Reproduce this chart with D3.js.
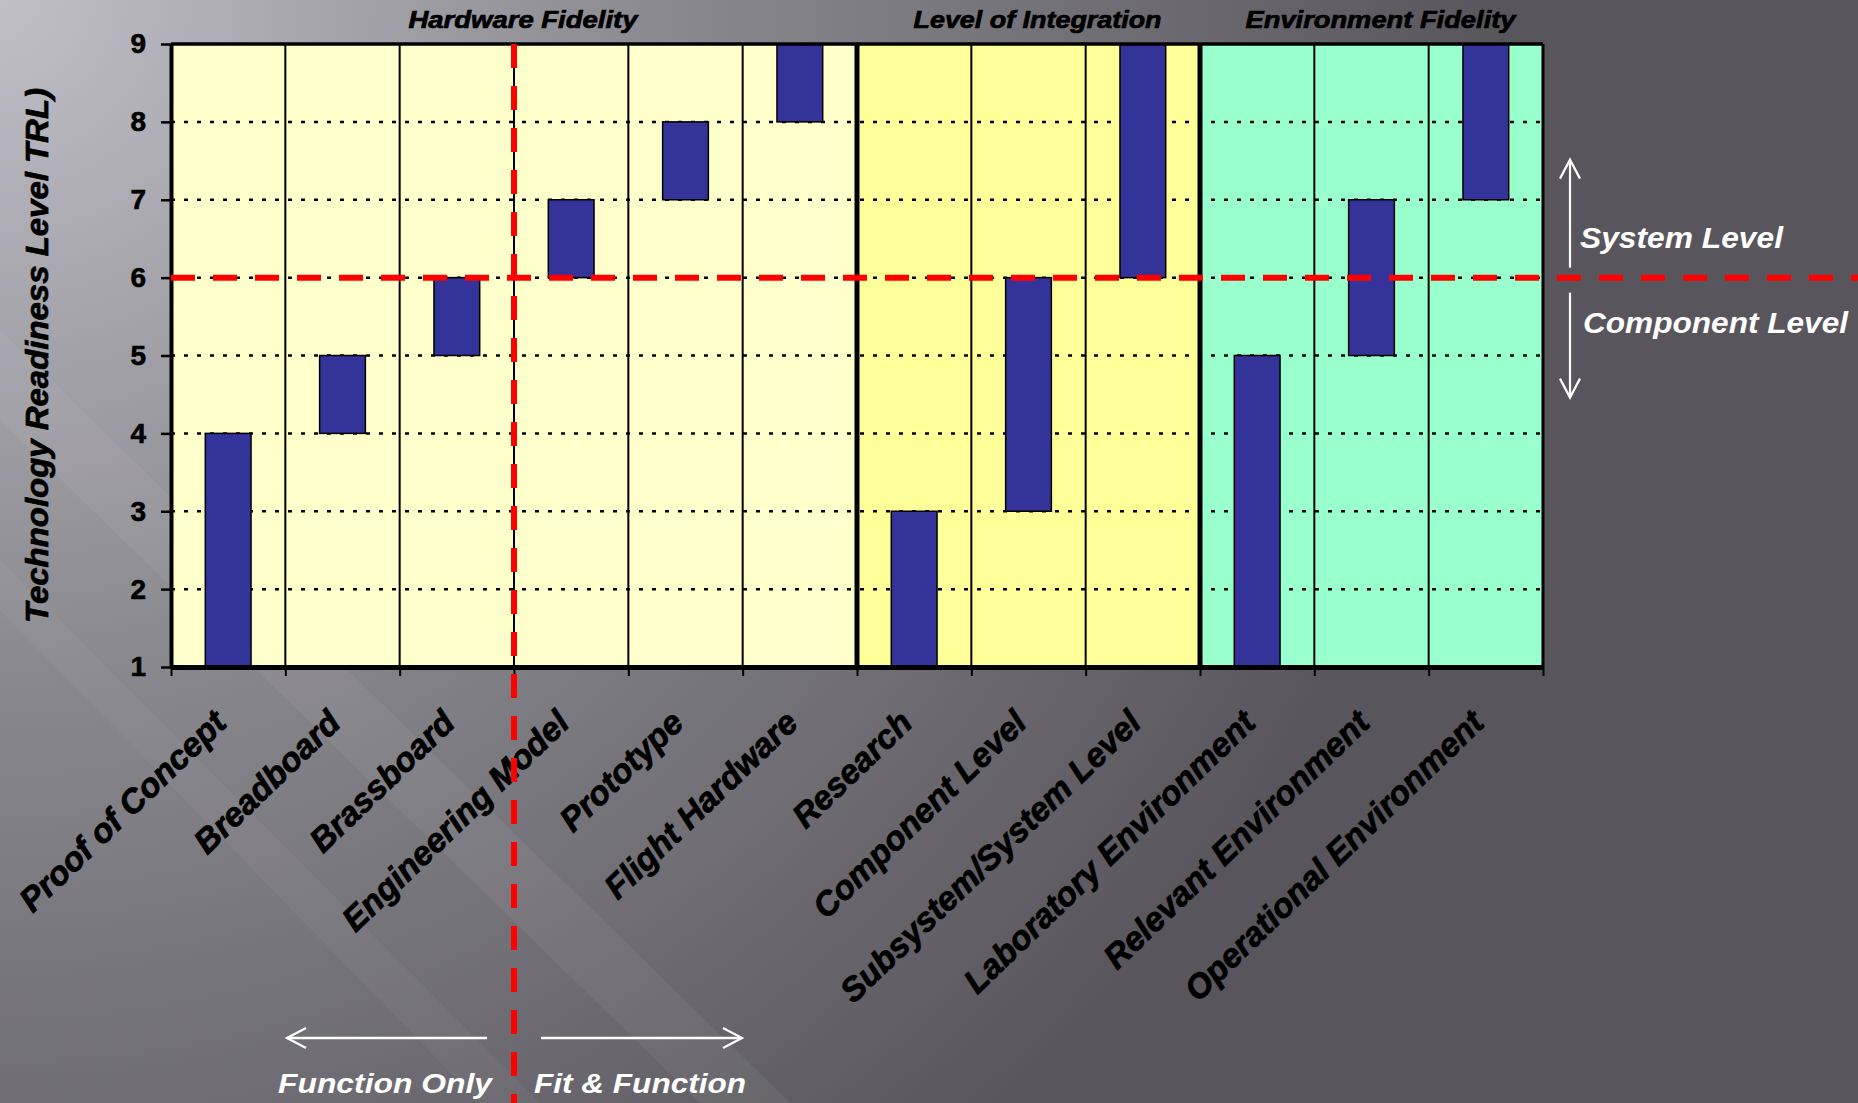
<!DOCTYPE html>
<html>
<head>
<meta charset="utf-8">
<script src="https://cdn.jsdelivr.net/npm/d3@7"></script>
<style>
  body { margin: 0; overflow: hidden; background: #6e6c72; }
  #graph { width: 1858px; height: 1103px; }
  text { font-family: "Liberation Sans", Arial, sans-serif; }
</style>
</head>
<body>
<div id="graph"></div>
<script>
// categories on the x axis
var categories = ["Proof of Concept", "Breadboard", "Brassboard", "Engineering Model", "Prototype", "Flight Hardware",
  "Research", "Component Level", "Subsystem/System Level",
  "Laboratory Environment", "Relevant Environment", "Operational Environment"];
// floating bars: lower and upper TRL
var trlLow = [1, 4, 5, 6, 7, 8, 1, 3, 6, 1, 5, 7];
var trlHigh = [4, 5, 6, 7, 8, 9, 3, 6, 9, 5, 7, 9];
// section headings and the categories they cover
var sectionNames = ["Hardware Fidelity", "Level of Integration", "Environment Fidelity"];
var sectionFirst = ["Proof of Concept", "Research", "Laboratory Environment"];
var sectionLast = ["Flight Hardware", "Subsystem/System Level", "Operational Environment"];
var sectionFill = ["#ffffcc", "#ffff99", "#99ffcc"];
// y axis
var yTicks = [1, 2, 3, 4, 5, 6, 7, 8, 9];
var gridTicks = [2, 3, 4, 5, 6, 7, 8];
var yTitle = "Technology Readiness Level TRL)";
// component / system boundary and the function / fit split
var systemTrl = 6;
var fitSplit = "Engineering Model";

var width = 1858, height = 1103;
var margin = { top: 44, left: 171, bottom: 436, right: 315 };
var chartWidth = width - margin.left - margin.right;
var chartHeight = height - margin.top - margin.bottom;

var svg = d3.select("#graph").append("svg").attr("width", width).attr("height", height);

var defs = svg.append("defs");
var grad = defs.append("radialGradient").attr("id", "bg")
  .attr("gradientUnits", "userSpaceOnUse")
  .attr("cx", 0).attr("cy", 0).attr("r", 1500);
grad.append("stop").attr("offset", 0).attr("stop-color", "#c0bec6");
grad.append("stop").attr("offset", 0.45).attr("stop-color", "#8a888f");
grad.append("stop").attr("offset", 1).attr("stop-color", "#58565c");

svg.append("rect").attr("width", width).attr("height", height).attr("fill", "url(#bg)");
// faint diagonal streaks of the slide background
svg.append("path").attr("d", "M0,330 L0,420 L700,1103 L790,1103 Z").attr("fill", "#fff").attr("opacity", 0.05);
svg.append("path").attr("d", "M0,560 L0,610 L480,1103 L540,1103 Z").attr("fill", "#fff").attr("opacity", 0.04);

var chartLayer = svg.append("g").attr("transform", "translate(" + [margin.left, margin.top] + ")");

var xScale = d3.scaleBand().domain(categories).range([0, chartWidth]).padding(0);
var xEdge = d3.scaleLinear().domain([0, categories.length]).range([0, chartWidth]);
var yScale = d3.scaleLinear().domain([1, 9]).range([chartHeight, 0]);

var bars = categories.map(function(c, i) {
  return { name: c, low: trlLow[i], high: trlHigh[i] };
});
var sections = sectionNames.map(function(s, i) {
  return { name: s, first: sectionFirst[i], last: sectionLast[i], fill: sectionFill[i] };
});

renderBackground();
renderGrid();
renderChart();
renderFrame();
renderAxis();
renderNotes();

function renderBackground() {
  chartLayer.selectAll(".section").data(sections).enter().append("rect")
    .attr("x", function(d) { return xScale(d.first); })
    .attr("y", 0)
    .attr("width", function(d) { return xScale(d.last) + xScale.bandwidth() - xScale(d.first); })
    .attr("height", chartHeight)
    .attr("fill", function(d) { return d.fill; });
}

function renderGrid() {
  chartLayer.selectAll(".grid").data(gridTicks).enter().append("line")
    .attr("x1", 0).attr("x2", chartWidth)
    .attr("y1", function(d) { return yScale(d); })
    .attr("y2", function(d) { return yScale(d); })
    .attr("stroke", "#000").attr("stroke-width", 2.5).attr("stroke-dasharray", "4,9");

  // thin lines between categories
  chartLayer.selectAll(".sep").data(categories.slice(1)).enter().append("line")
    .attr("x1", function(d) { return xScale(d); })
    .attr("x2", function(d) { return xScale(d); })
    .attr("y1", 0).attr("y2", chartHeight)
    .attr("stroke", "#000").attr("stroke-width", 2);
}

function renderChart() {
  var bw = xScale.bandwidth();
  chartLayer.selectAll(".bar").data(bars).enter().append("rect")
    .attr("class", "bar")
    .attr("x", function(d) { return xScale(d.name) + bw * 0.3; })
    .attr("width", bw * 0.4)
    .attr("y", function(d) { return yScale(d.high); })
    .attr("height", function(d) { return yScale(d.low) - yScale(d.high); })
    .attr("fill", "#333399").attr("stroke", "#000").attr("stroke-width", 1.5);
}

function renderFrame() {
  // heavy dividers between sections
  chartLayer.selectAll(".divider").data(sections.slice(1)).enter().append("line")
    .attr("x1", function(d) { return xScale(d.first); })
    .attr("x2", function(d) { return xScale(d.first); })
    .attr("y1", 0).attr("y2", chartHeight)
    .attr("stroke", "#000").attr("stroke-width", 5);

  chartLayer.append("line").attr("x1", 0).attr("x2", chartWidth).attr("y1", 0).attr("y2", 0)
    .attr("stroke", "#000").attr("stroke-width", 3.5);
  chartLayer.append("line").attr("x1", chartWidth).attr("x2", chartWidth).attr("y1", 0).attr("y2", chartHeight)
    .attr("stroke", "#000").attr("stroke-width", 3);

  chartLayer.selectAll(".sectionLabel").data(sections).enter().append("text")
    .attr("x", function(d) { return (xScale(d.first) + xScale(d.last) + xScale.bandwidth()) / 2 + 9; })
    .attr("y", 28 - margin.top)
    .attr("text-anchor", "middle")
    .attr("font-size", 23).attr("font-weight", "bold").attr("font-style", "italic")
    .attr("stroke", "#000").attr("stroke-width", 0.7)
    .attr("textLength", function(d, i) { return [229, 248, 270][i]; })
    .attr("lengthAdjust", "spacingAndGlyphs")
    .text(function(d) { return d.name; });
}

function renderAxis() {
  var yAxis = d3.axisLeft(yScale).tickValues(yTicks).tickSize(10).tickSizeOuter(0).tickPadding(15);
  var gy = chartLayer.append("g").call(yAxis);
  gy.select(".domain").attr("stroke-width", 4);
  gy.selectAll(".tick line").attr("stroke-width", 2.5);
  gy.selectAll(".tick text").attr("font-size", 28).attr("font-weight", "bold")
    .attr("font-family", "'Liberation Sans', Arial, sans-serif").attr("fill", "#000")
    .attr("stroke", "#000").attr("stroke-width", 0.6);

  var xAxis = d3.axisBottom(xEdge).tickValues(d3.range(categories.length + 1))
    .tickSize(9).tickSizeOuter(0).tickFormat("");
  var gx = chartLayer.append("g").attr("transform", "translate(0," + chartHeight + ")").call(xAxis);
  gx.select(".domain").attr("stroke-width", 5);
  gx.selectAll(".tick line").attr("stroke-width", 2);

  chartLayer.selectAll(".xlabel").data(categories).enter().append("text")
    .attr("transform", function(d) {
      return "translate(" + [xScale(d) + xScale.bandwidth() / 2, chartHeight + 58] + ") rotate(-44)";
    })
    .attr("text-anchor", "end")
    .attr("font-size", 33.5).attr("font-weight", "bold").attr("font-style", "italic")
    .attr("stroke", "#000").attr("stroke-width", 0.8)
    .text(function(d) { return d; });

  svg.append("text")
    .attr("transform", "translate(" + [48, margin.top + yScale(5)] + ") rotate(-90)")
    .attr("text-anchor", "middle")
    .attr("font-size", 31).attr("font-weight", "bold").attr("font-style", "italic")
    .attr("stroke", "#000").attr("stroke-width", 0.7)
    .attr("textLength", 535).attr("lengthAdjust", "spacingAndGlyphs")
    .text(yTitle);
}

function arrowHead(g, x, y, dx, dy) {
  // open V arrow head pointing along (dx, dy)
  var px = -dy, py = dx;
  g.append("path")
    .attr("d", "M" + [x - dx * 19 + px * 10, y - dy * 19 + py * 10] + "L" + [x, y] +
      "L" + [x - dx * 19 - px * 10, y - dy * 19 - py * 10])
    .attr("fill", "none").attr("stroke", "#fff").attr("stroke-width", 2.2);
}

function renderNotes() {
  var y6 = margin.top + yScale(systemTrl);
  var xSplit = margin.left + xScale(fitSplit);
  var notes = svg.append("g");

  // horizontal red line at TRL 6
  notes.append("line").attr("x1", margin.left).attr("x2", width).attr("y1", y6).attr("y2", y6)
    .attr("stroke", "#ff0000").attr("stroke-width", 6).attr("stroke-dasharray", "24,18");
  // vertical red line between function only and fit & function
  notes.append("line").attr("x1", xSplit).attr("x2", xSplit).attr("y1", margin.top).attr("y2", height)
    .attr("stroke", "#ff0000").attr("stroke-width", 6).attr("stroke-dasharray", "24,18");

  var ax = margin.left + chartWidth + 27;
  notes.append("line").attr("x1", ax).attr("x2", ax).attr("y1", y6 - 10).attr("y2", y6 - 118)
    .attr("stroke", "#fff").attr("stroke-width", 2.2);
  arrowHead(notes, ax, y6 - 118, 0, -1);
  notes.append("line").attr("x1", ax).attr("x2", ax).attr("y1", y6 + 15).attr("y2", y6 + 120)
    .attr("stroke", "#fff").attr("stroke-width", 2.2);
  arrowHead(notes, ax, y6 + 120, 0, 1);

  notes.append("text").attr("x", ax + 10).attr("y", y6 - 30)
    .attr("font-size", 29).attr("font-weight", "bold").attr("font-style", "italic").attr("fill", "#fff")
    .attr("textLength", 203).attr("lengthAdjust", "spacingAndGlyphs")
    .text("System Level");
  notes.append("text").attr("x", ax + 13).attr("y", y6 + 55)
    .attr("font-size", 29).attr("font-weight", "bold").attr("font-style", "italic").attr("fill", "#fff")
    .attr("textLength", 265).attr("lengthAdjust", "spacingAndGlyphs")
    .text("Component Level");

  var ay = 1038;
  notes.append("line").attr("x1", xSplit - 27).attr("x2", xSplit - 227).attr("y1", ay).attr("y2", ay)
    .attr("stroke", "#fff").attr("stroke-width", 2.5);
  arrowHead(notes, xSplit - 227, ay, -1, 0);
  notes.append("line").attr("x1", xSplit + 27).attr("x2", xSplit + 228).attr("y1", ay).attr("y2", ay)
    .attr("stroke", "#fff").attr("stroke-width", 2.5);
  arrowHead(notes, xSplit + 228, ay, 1, 0);

  notes.append("text").attr("x", xSplit - 22).attr("y", 1093).attr("text-anchor", "end")
    .attr("font-size", 28).attr("font-weight", "bold").attr("font-style", "italic").attr("fill", "#fff")
    .attr("textLength", 214).attr("lengthAdjust", "spacingAndGlyphs")
    .text("Function Only");
  notes.append("text").attr("x", xSplit + 20).attr("y", 1093)
    .attr("font-size", 28).attr("font-weight", "bold").attr("font-style", "italic").attr("fill", "#fff")
    .attr("textLength", 212).attr("lengthAdjust", "spacingAndGlyphs")
    .text("Fit & Function");
}
</script>
</body>
</html>
